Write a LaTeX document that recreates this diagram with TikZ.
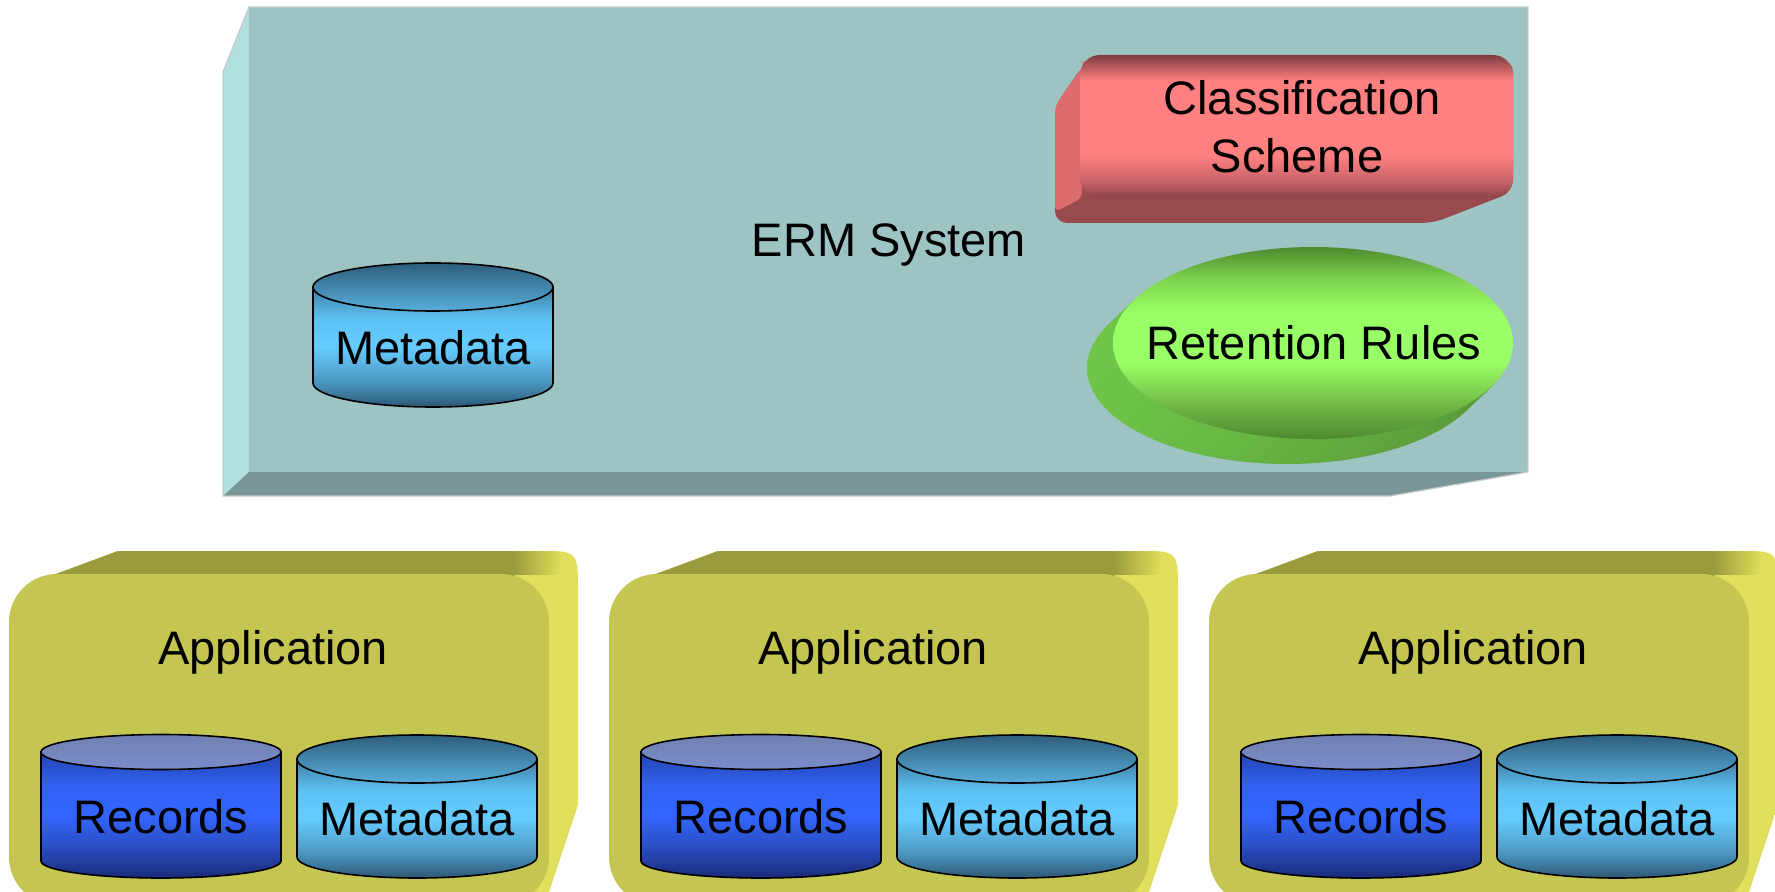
\documentclass[tikz,border=0pt]{standalone}
\usepackage{fontspec}
\setmainfont{Liberation Sans}
\definecolor{ermface}{HTML}{9DC3C3}
\definecolor{ermleft}{HTML}{B2E0E0}
\definecolor{ermbot}{HTML}{789696}
\definecolor{ermedge}{HTML}{C4CACA}
\definecolor{appface}{HTML}{C5C552}
\definecolor{apptop}{HTML}{9B9B3D}
\definecolor{appright}{HTML}{E0E05C}
\definecolor{redface}{HTML}{FF8080}
\definecolor{redmid}{HTML}{C8646A}
\definecolor{reddark}{HTML}{7E3C42}
\definecolor{redbotc}{HTML}{8A4248}
\definecolor{redleft}{HTML}{DC6C6E}
\definecolor{redbot}{HTML}{984A4E}
\definecolor{grdark}{HTML}{4E8A30}
\definecolor{grlow}{HTML}{6EB444}
\definecolor{grhi}{HTML}{80D850}
\definecolor{grmid}{HTML}{99FF66}
\definecolor{grextl}{HTML}{6FC548}
\definecolor{grextr}{HTML}{58983A}
\definecolor{mdA}{HTML}{2C5874}
\definecolor{mdB}{HTML}{4A94BE}
\definecolor{mdC}{HTML}{66CCFF}
\definecolor{mdD}{HTML}{5EC0F2}
\definecolor{mdE}{HTML}{3E7EA2}
\definecolor{mdtA}{HTML}{58AEDC}
\definecolor{mdtB}{HTML}{2F5E7C}
\definecolor{rcA}{HTML}{1A2A78}
\definecolor{rcB}{HTML}{2A4CC0}
\definecolor{rcC}{HTML}{3366FF}
\definecolor{rcD}{HTML}{3060F0}
\definecolor{rcE}{HTML}{2444B0}
\definecolor{rctA}{HTML}{7A8DCC}
\definecolor{rctB}{HTML}{7080B0}
\pgfdeclareverticalshading{redsh}{100bp}{color(0bp)=(redbotc); color(25bp)=(redbotc); color(31bp)=(redmid); color(40bp)=(redface); color(66bp)=(redface); color(75bp)=(reddark); color(100bp)=(reddark)}
\pgfdeclareverticalshading{grsh}{100bp}{color(0bp)=(grdark); color(25bp)=(grdark); color(33bp)=(grlow); color(45bp)=(grmid); color(58bp)=(grmid); color(66bp)=(grhi); color(75bp)=(grdark); color(100bp)=(grdark)}
\pgfdeclareverticalshading{mdbodysh}{100bp}{color(0bp)=(mdA); color(25bp)=(mdA); color(35bp)=(mdB); color(50bp)=(mdC); color(62bp)=(mdD); color(75bp)=(mdE); color(100bp)=(mdE)}
\pgfdeclareverticalshading{mdtopsh}{100bp}{color(0bp)=(mdtA); color(25bp)=(mdtA); color(75bp)=(mdtB); color(100bp)=(mdtB)}
\pgfdeclareverticalshading{rcbodysh}{100bp}{color(0bp)=(rcA); color(25bp)=(rcA); color(37bp)=(rcB); color(50bp)=(rcC); color(62bp)=(rcD); color(75bp)=(rcE); color(100bp)=(rcE)}
\pgfdeclareverticalshading{rctopsh}{100bp}{color(0bp)=(rctA); color(25bp)=(rctA); color(75bp)=(rctB); color(100bp)=(rctB)}
\newcommand{\mycyl}[6]{%
  \shade[shading=#6bodysh, cyledge] (#1-120,#2) -- (#1-120,#3) arc[start angle=180, end angle=0, x radius=120, y radius=#5] -- (#1+120,#2) -- cycle;
  \shade[shading=#6topsh, cyledge] (#1,#2) ellipse [x radius=120, y radius=#4];
}
\begin{document}
\begin{tikzpicture}[x=0.5pt,y=-0.5pt,
  lbl/.style={font=\fontsize{23.5}{28}\selectfont, inner sep=0pt, anchor=base, text=black},
  cyledge/.style={draw=black, line width=0.8pt}]
\useasboundingbox (0,0) rectangle (1775,892);
\clip (0,0) rectangle (1775,892);
% ERM system slab
\fill[ermleft] (223,72) -- (249,7) -- (249,472) -- (223,496) -- cycle;
\fill[ermbot] (223,496) -- (249,472) -- (1528,472) -- (1390,496) -- cycle;
\fill[ermface] (249,7) rectangle (1528,472);
\draw[ermedge, line width=0.6pt] (223,72) -- (249,7) -- (1528,7) -- (1528,472) -- (1390,496) -- (223,496) -- cycle;
\node[lbl] (erm) at (889,257) {ERM System};
% ERM metadata
\mycyl{433}{287}{383}{24}{24}{md}
\node[lbl] (meta0) at (433,365) {Metadata};
% Classification scheme
\fill[redbot, rounded corners=6pt] (1084,64) -- (1055,106) -- (1055,223) -- (1433,223) -- (1513,192) -- (1513,60) -- cycle;
\fill[redleft, rounded corners=3pt] (1086,62) -- (1055,106) -- (1055,212) -- (1082,198) -- (1082,62) -- cycle;
\shade[shading=redsh, rounded corners=10pt] (1080,55) rectangle (1513,198);
\node[lbl] (cls1) at (1302,115) {Classification};
\node[lbl] (cls2) at (1297,173) {Scheme};
% Retention rules
\foreach \i in {20,...,1} {
  \shade[left color=grextl, right color=grextr] ({1313-1.3*\i},{343+1.25*\i}) ellipse [x radius=200, y radius=96];
}
\shade[shading=grsh] (1313,343) ellipse [x radius=200, y radius=96];
\node[lbl] (ret) at (1314,360) {Retention Rules};
% Applications
\foreach \dx/\nm in {0/a,600/b,1200/c} {
  \begin{scope}[shift={(\dx,0)}]
    \begin{scope}
      \path[clip] (45,578) -- (118,551) -- (538,551) .. controls (578,551) .. (578,591) -- (578,805) -- (549,892) -- (300,892) -- cycle;
      \fill[appright] (0,540) rectangle (600,900);
      \fill[apptop] (0,540) rectangle (515,580);
      \shade[left color=apptop, right color=appright] (514,545) rectangle (562,574);
    \end{scope}
    \fill[appface, rounded corners=24pt] (9,574) rectangle (549,905);
    \node[lbl] (app\nm) at (273,664) {Application};
    \mycyl{161}{752}{861}{17.5}{17}{rc}
    \node[lbl] (rec\nm) at (161,833) {Records};
    \mycyl{417}{759}{857}{24}{21}{md}
    \node[lbl] (meta\nm) at (417,835) {Metadata};
  \end{scope}
}
\end{tikzpicture}
\end{document}
